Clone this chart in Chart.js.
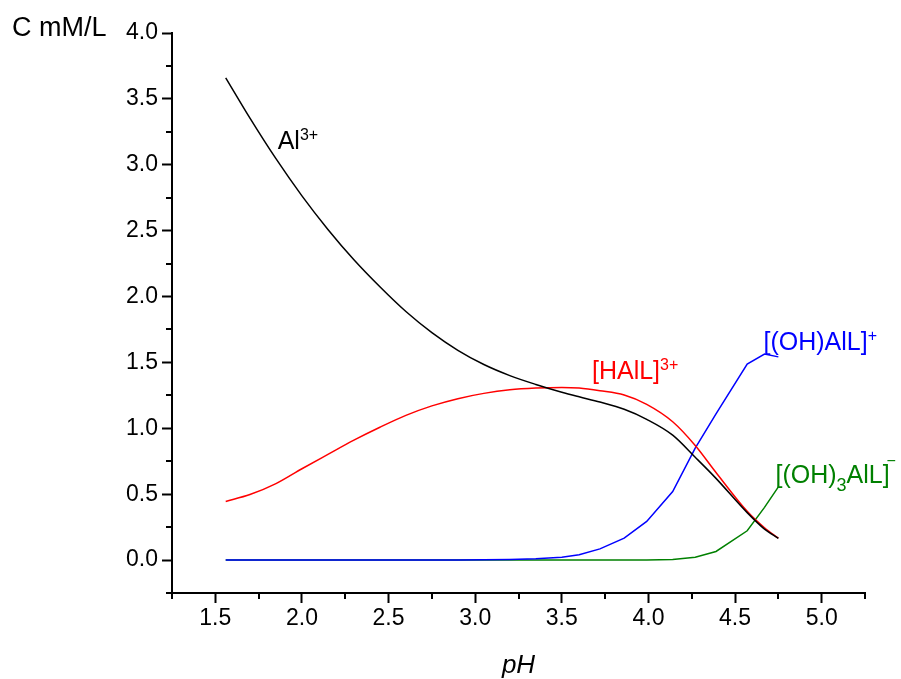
<!DOCTYPE html>
<html>
<head>
<meta charset="utf-8">
<script src="https://cdn.jsdelivr.net/npm/chart.js@4"></script>
<style>
  body { margin: 0; background: #fff; }
  #wrap { width: 901px; height: 679px; }
</style>
</head>
<body>
<div id="wrap"><canvas id="specChart"></canvas></div>
<script>
// pH nodes shared by all species
const pH = [1.56, 1.7, 1.85, 2.0, 2.15, 2.3, 2.45, 2.6, 2.75, 2.9, 3.05, 3.2, 3.35, 3.5, 3.6, 3.72, 3.86, 3.99, 4.14, 4.27, 4.39, 4.57, 4.67, 4.75];

const al3 =    [3.66, 3.354, 3.046, 2.764, 2.509, 2.279, 2.074, 1.886, 1.726, 1.592, 1.484, 1.40, 1.333, 1.274, 1.239, 1.199, 1.144, 1.068, 0.948, 0.78, 0.62, 0.36, 0.235, 0.165];
const hall =   [0.445, 0.497, 0.58, 0.693, 0.802, 0.91, 1.008, 1.098, 1.17, 1.225, 1.265, 1.292, 1.305, 1.31, 1.305, 1.285, 1.253, 1.182, 1.05, 0.87, 0.665, 0.37, 0.245, 0.166];
const ohall =  [0, 0, 0, 0, 0, 0, 0, 0, 0, 0.001, 0.002, 0.004, 0.009, 0.022, 0.04, 0.085, 0.166, 0.293, 0.52, 0.85, 1.11, 1.487, 1.563, 1.542];
const oh3all = [0, 0, 0, 0, 0, 0, 0, 0, 0, 0, 0, 0, 0, 0, 0, 0, 0, 0.001, 0.004, 0.022, 0.065, 0.222, 0.40, 0.555];

const xTickMin = 1.25, xTickMax = 5.25, yTickMin = -0.25, yTickMax = 4.0, tickStep = 0.25;

const FONT = '"Liberation Sans", Arial, Helvetica, sans-serif';

function pts(vals) {
  return vals.map((v, i) => ({ x: pH[i], y: v }));
}

function isMajor(v) {
  return Math.abs(v * 2 - Math.round(v * 2)) < 1e-6;
}

// species labels, anchored in data coordinates
const labels = [
  { x: 1.86, y: 3.12, color: '#000000', parts: [{ t: 'Al' }, { t: '3+', sup: true }] },
  { x: 3.674, y: 1.375, color: '#ff0000', parts: [{ t: '[HAlL]' }, { t: '3+', sup: true }] },
  { x: 4.664, y: 1.595, color: '#0000ff', parts: [{ t: '[(OH)AlL]' }, { t: '+', sup: true }] },
  { x: 4.733, y: 0.583, color: '#008000', parts: [{ t: '[(OH)' }, { t: '3', sub: true }, { t: 'AlL]' }, { t: '\u2212', sup: true, dx: -3, dy: -17 }] }
];

function drawRich(ctx, x, y, parts) {
  let cx = x;
  parts.forEach(p => {
    let size = 25, dy = 0;
    if (p.sup) { size = 16; dy = -9; }
    if (p.sub) { size = 18; dy = 8; }
    if (p.dy !== undefined) dy = p.dy;
    cx += p.dx || 0;
    ctx.font = size + 'px ' + FONT;
    ctx.fillText(p.t, cx, y + dy);
    cx += ctx.measureText(p.t).width;
  });
}

const extras = {
  id: 'extras',
  afterDraw(chart) {
    const ctx = chart.ctx;
    const xs = chart.scales.x, ys = chart.scales.y;
    const area = chart.chartArea;
    ctx.save();
    ctx.strokeStyle = '#000';
    ctx.lineWidth = 2;
    // minor ticks
    xs.ticks.forEach(t => {
      if (isMajor(t.value)) return;
      const px = Math.round(xs.getPixelForValue(t.value));
      ctx.beginPath();
      ctx.moveTo(px, area.bottom);
      ctx.lineTo(px, area.bottom + 6);
      ctx.stroke();
    });
    ys.ticks.forEach(t => {
      if (isMajor(t.value)) return;
      const py = Math.round(ys.getPixelForValue(t.value));
      ctx.beginPath();
      ctx.moveTo(area.left, py);
      ctx.lineTo(area.left - 6, py);
      ctx.stroke();
    });
    // y axis title, beside the top tick label
    ctx.fillStyle = '#000';
    ctx.textAlign = 'left';
    ctx.textBaseline = 'alphabetic';
    ctx.font = '27px ' + FONT;
    ctx.fillText('C mM/L', 12, ys.getPixelForValue(yTickMax) + 3);
    // species labels
    labels.forEach(l => {
      ctx.fillStyle = l.color;
      drawRich(ctx, xs.getPixelForValue(l.x), ys.getPixelForValue(l.y), l.parts);
    });
    ctx.restore();
  }
};

function series(label, vals, color, smooth) {
  return {
    label: label,
    data: pts(vals),
    borderColor: color,
    backgroundColor: color,
    borderWidth: 1.5,
    pointRadius: 0,
    cubicInterpolationMode: smooth ? 'monotone' : 'default',
    tension: 0,
    fill: false
  };
}

new Chart(document.getElementById('specChart').getContext('2d'), {
  type: 'line',
  data: {
    datasets: [
      series('Al3+', al3, '#000000', true),
      series('[HAlL]3+', hall, '#ff0000', true),
      series('[(OH)AlL]+', ohall, '#0000ff', false),
      series('[(OH)3AlL]-', oh3all, '#008000', false)
    ]
  },
  options: {
    responsive: true,
    maintainAspectRatio: false,
    animation: false,
    layout: { padding: { top: 33, right: 36, left: 0, bottom: 0 } },
    plugins: { legend: { display: false }, tooltip: { enabled: false } },
    scales: {
      x: {
        type: 'linear',
        min: xTickMin,
        max: xTickMax,
        border: { display: true, color: '#000', width: 2 },
        grid: {
          drawOnChartArea: false,
          drawTicks: true,
          tickLength: 10,
          tickWidth: 2,
          tickColor: c => (c.tick && isMajor(c.tick.value)) ? '#000' : 'rgba(0,0,0,0)'
        },
        ticks: {
          stepSize: tickStep,
          autoSkip: false,
          maxRotation: 0,
          padding: 2,
          color: '#000',
          font: { family: FONT, size: 23 },
          callback: v => isMajor(v) ? v.toFixed(1) : ''
        },
        title: {
          display: true,
          text: 'pH',
          color: '#000',
          padding: { top: 0, bottom: 0 },
          font: { family: FONT, size: 26, style: 'italic', lineHeight: 1.05 }
        },
        afterFit: s => { s.height = 86; }
      },
      y: {
        type: 'linear',
        min: yTickMin,
        max: yTickMax,
        border: { display: true, color: '#000', width: 2 },
        grid: {
          drawOnChartArea: false,
          drawTicks: true,
          tickLength: 10,
          tickWidth: 2,
          tickColor: c => (c.tick && isMajor(c.tick.value)) ? '#000' : 'rgba(0,0,0,0)'
        },
        ticks: {
          stepSize: tickStep,
          autoSkip: false,
          padding: 4,
          color: '#000',
          font: { family: FONT, size: 23 },
          callback: v => isMajor(v) ? v.toFixed(1) : ''
        },
        afterFit: s => { s.width = 172; }
      }
    }
  },
  plugins: [extras]
});
</script>
</body>
</html>
